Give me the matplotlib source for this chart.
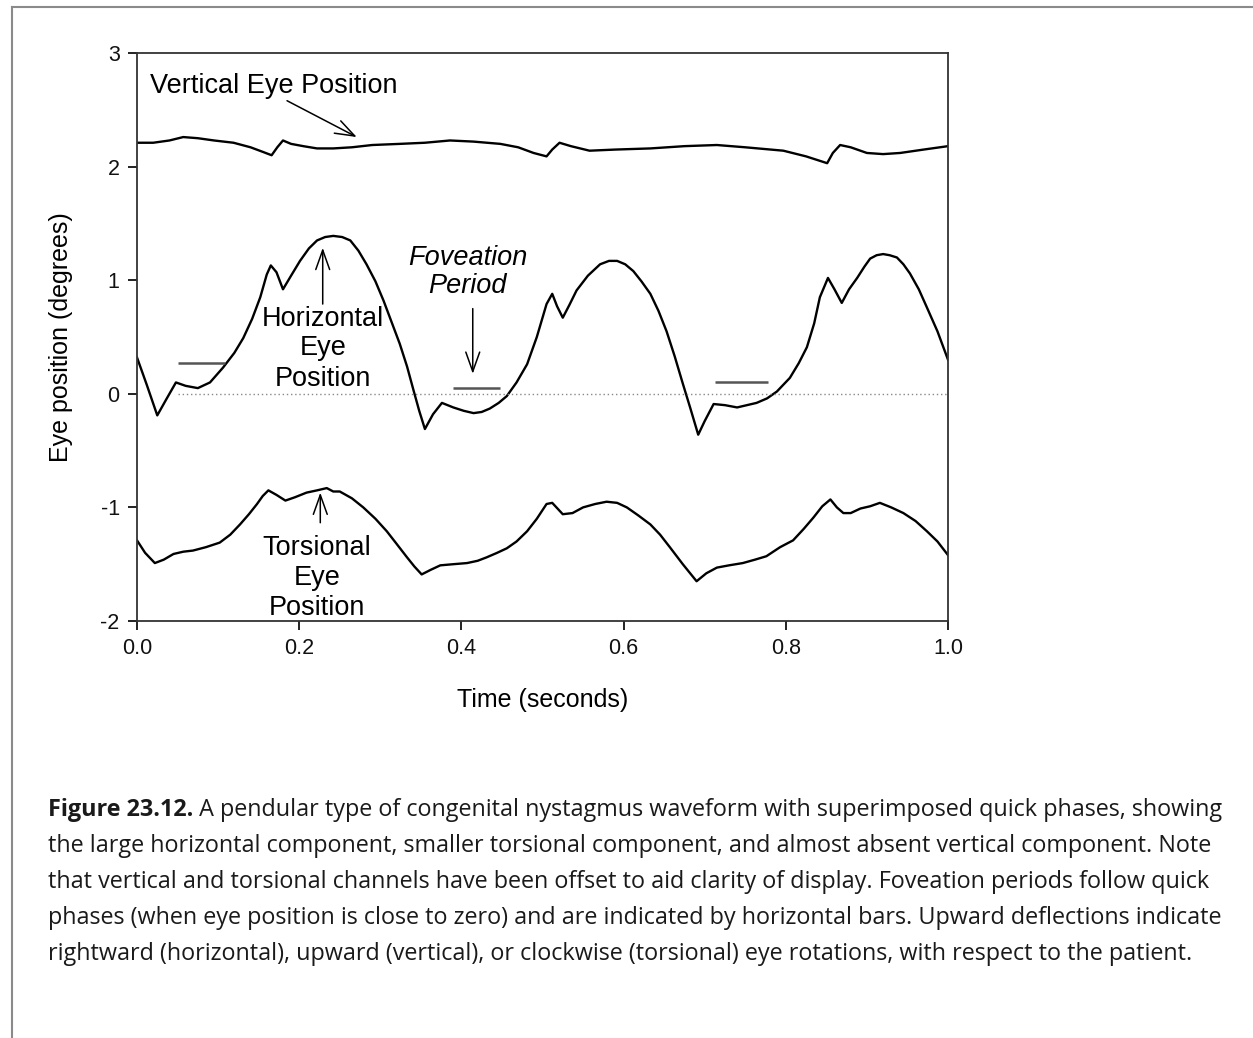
import matplotlib
matplotlib.use("Agg")
import matplotlib.pyplot as plt
from matplotlib.lines import Line2D

plt.rcParams["font.family"] = ["Liberation Sans", "DejaVu Sans"]
plt.rcParams["axes.unicode_minus"] = False

# horizontal eye position (degrees) vs time (s)
horiz_t = [0.000, 0.012, 0.025, 0.036, 0.048, 0.060, 0.075, 0.090, 0.106, 0.120,
           0.131, 0.142, 0.152, 0.160, 0.165, 0.172, 0.180, 0.190, 0.201, 0.212,
           0.222, 0.232, 0.242, 0.253, 0.263, 0.273, 0.283, 0.294, 0.304, 0.314,
           0.324, 0.333, 0.341, 0.348, 0.355, 0.365, 0.376, 0.390, 0.403, 0.415,
           0.425, 0.435, 0.446, 0.456, 0.468, 0.481, 0.493, 0.505, 0.512, 0.518,
           0.525, 0.533, 0.542, 0.556, 0.571, 0.582, 0.592, 0.602, 0.612, 0.622,
           0.633, 0.643, 0.653, 0.663, 0.673, 0.682, 0.692, 0.700, 0.711, 0.725,
           0.740, 0.752, 0.764, 0.777, 0.789, 0.805, 0.816, 0.826, 0.835, 0.842,
           0.852, 0.860, 0.869, 0.878, 0.888, 0.897, 0.904, 0.912, 0.920, 0.928,
           0.937, 0.945, 0.953, 0.964, 0.974, 0.987, 1.000]
horiz_v = [0.32, 0.08, -0.19, -0.05, 0.10, 0.07, 0.05, 0.10, 0.23, 0.36,
           0.49, 0.66, 0.85, 1.05, 1.13, 1.07, 0.92, 1.04, 1.17, 1.28,
           1.35, 1.38, 1.39, 1.38, 1.35, 1.26, 1.14, 0.99, 0.82, 0.63,
           0.44, 0.24, 0.03, -0.15, -0.31, -0.18, -0.08, -0.12, -0.15, -0.17,
           -0.16, -0.13, -0.08, -0.02, 0.10, 0.26, 0.50, 0.79, 0.88, 0.77,
           0.67, 0.78, 0.91, 1.04, 1.14, 1.17, 1.17, 1.14, 1.08, 0.99,
           0.88, 0.73, 0.55, 0.33, 0.09, -0.12, -0.36, -0.24, -0.09, -0.10,
           -0.12, -0.10, -0.08, -0.04, 0.02, 0.14, 0.27, 0.41, 0.62, 0.85,
           1.02, 0.92, 0.80, 0.92, 1.02, 1.12, 1.19, 1.22, 1.23, 1.22,
           1.20, 1.14, 1.06, 0.92, 0.76, 0.55, 0.30]

# torsional eye position (offset for display)
tors_t = [0.000, 0.010, 0.022, 0.033, 0.045, 0.057, 0.069, 0.085, 0.102, 0.115,
          0.127, 0.138, 0.148, 0.155, 0.162, 0.172, 0.183, 0.195, 0.209, 0.222,
          0.234, 0.242, 0.250, 0.265, 0.279, 0.294, 0.308, 0.320, 0.333, 0.342,
          0.351, 0.362, 0.374, 0.390, 0.407, 0.420, 0.431, 0.444, 0.456, 0.468,
          0.481, 0.493, 0.505, 0.512, 0.525, 0.537, 0.550, 0.565, 0.579, 0.592,
          0.604, 0.618, 0.633, 0.645, 0.657, 0.673, 0.690, 0.702, 0.715, 0.730,
          0.747, 0.762, 0.776, 0.793, 0.809, 0.822, 0.834, 0.845, 0.855, 0.863,
          0.871, 0.880, 0.892, 0.904, 0.916, 0.930, 0.945, 0.960, 0.974, 0.987,
          1.000]
tors_v = [-1.29, -1.40, -1.49, -1.46, -1.41, -1.39, -1.38, -1.35, -1.31, -1.24,
          -1.15, -1.06, -0.97, -0.90, -0.85, -0.89, -0.94, -0.91, -0.87, -0.85,
          -0.83, -0.86, -0.86, -0.92, -1.00, -1.10, -1.21, -1.32, -1.44, -1.52,
          -1.59, -1.55, -1.51, -1.50, -1.49, -1.47, -1.44, -1.40, -1.36, -1.30,
          -1.21, -1.10, -0.97, -0.96, -1.06, -1.05, -1.00, -0.97, -0.95, -0.96,
          -1.00, -1.07, -1.15, -1.24, -1.35, -1.50, -1.65, -1.58, -1.53, -1.51,
          -1.49, -1.46, -1.43, -1.35, -1.29, -1.19, -1.09, -0.99, -0.93, -1.00,
          -1.05, -1.05, -1.01, -0.99, -0.96, -1.00, -1.05, -1.12, -1.21, -1.30,
          -1.42]

# vertical eye position (offset for display)
vert_t = [0.000, 0.020, 0.040, 0.057, 0.075, 0.095, 0.119, 0.140, 0.155, 0.166,
          0.173, 0.180, 0.190, 0.205, 0.222, 0.242, 0.265, 0.290, 0.324, 0.355,
          0.386, 0.415, 0.448, 0.470, 0.489, 0.505, 0.512, 0.521, 0.535, 0.558,
          0.590, 0.633, 0.675, 0.715, 0.750, 0.797, 0.825, 0.851, 0.858, 0.867,
          0.880, 0.900, 0.920, 0.941, 0.970, 1.000]
vert_v = [2.21, 2.21, 2.23, 2.26, 2.25, 2.23, 2.21, 2.17, 2.13, 2.10,
          2.17, 2.23, 2.20, 2.18, 2.16, 2.16, 2.17, 2.19, 2.20, 2.21,
          2.23, 2.22, 2.20, 2.17, 2.12, 2.09, 2.15, 2.21, 2.18, 2.14,
          2.15, 2.16, 2.18, 2.19, 2.17, 2.14, 2.09, 2.03, 2.12, 2.19,
          2.17, 2.12, 2.11, 2.12, 2.15, 2.18]

# foveation period bars
fov_start = [0.051, 0.390, 0.713]
fov_end = [0.109, 0.448, 0.778]
fov_level = [0.27, 0.05, 0.10]

x_ticks = [0.0, 0.2, 0.4, 0.6, 0.8, 1.0]
y_ticks = [-2, -1, 0, 1, 2, 3]

caption_bold = "Figure 23.12."
caption_lines = [
    " A pendular type of congenital nystagmus waveform with superimposed quick phases, showing",
    "the large horizontal component, smaller torsional component, and almost absent vertical component. Note",
    "that vertical and torsional channels have been offset to aid clarity of display. Foveation periods follow quick",
    "phases (when eye position is close to zero) and are indicated by horizontal bars. Upward deflections indicate",
    "rightward (horizontal), upward (vertical), or clockwise (torsional) eye rotations, with respect to the patient.",
]

W, H = 1253, 1038
fig = plt.figure(figsize=(W / 100, H / 100), dpi=100)
ax = fig.add_axes([137 / W, 1 - 621 / H, (948 - 137) / W, (621 - 53) / H])

ax.plot(horiz_t, horiz_v, color="black", lw=1.7)
ax.plot(tors_t, tors_v, color="black", lw=1.7)
ax.plot(vert_t, vert_v, color="black", lw=1.7)
ax.plot([0.05, 1.0], [0, 0], color="#888888", lw=1.0, ls=(0, (1, 2)))
ax.hlines(fov_level, fov_start, fov_end, color="#555555", lw=1.8)

ax.set_xlim(0, 1)
ax.set_ylim(-2, 3)
ax.set_xticks(x_ticks)
ax.set_xticklabels([f"{t:.1f}" for t in x_ticks])
ax.set_yticks(y_ticks)
ax.set_yticklabels([str(v) for v in y_ticks])
ax.tick_params(direction="out", length=6.5, width=1.3, labelsize=15.5, pad=6,
               colors="#111111")
for s in ax.spines.values():
    s.set_linewidth(1.3)
    s.set_color("#333333")

ax.set_xlabel("Time (seconds)", fontsize=18)
ax.xaxis.set_label_coords(0.5, -0.118)
ax.set_ylabel("Eye position (degrees)", fontsize=18)
ax.yaxis.set_label_coords(-0.079, 0.5)

fs = 19.5
ax.text(0.016, 2.71, "Vertical Eye Position", fontsize=fs, ha="left", va="center")
for txt, y in zip(["Horizontal", "Eye", "Position"], [0.66, 0.40, 0.13]):
    ax.text(0.229, y, txt, fontsize=fs, ha="center", va="center")
for txt, y in zip(["Torsional", "Eye", "Position"], [-1.356, -1.62, -1.884]):
    ax.text(0.222, y, txt, fontsize=fs, ha="center", va="center")
for txt, y in zip(["Foveation", "Period"], [1.197, 0.951]):
    ax.text(0.408, y, txt, fontsize=fs, ha="center", va="center", style="italic")

arrow = dict(arrowstyle="->,head_length=0.7,head_width=0.25", color="black",
             lw=1.1, shrinkA=0, shrinkB=0, mutation_scale=20)
ax.annotate("", xy=(0.271, 2.26), xytext=(0.185, 2.58), arrowprops=arrow)
ax.annotate("", xy=(0.229, 1.285), xytext=(0.229, 0.79), arrowprops=arrow)
ax.annotate("", xy=(0.414, 0.176), xytext=(0.414, 0.75), arrowprops=arrow)
ax.annotate("", xy=(0.226, -0.87), xytext=(0.226, -1.135), arrowprops=arrow)

# page frame (top and left edges)
fig.add_artist(Line2D([12 / W, 1], [1 - 7 / H, 1 - 7 / H], color="#8a8a8a", lw=1.5))
fig.add_artist(Line2D([12 / W, 12 / W], [0, 1 - 7 / H], color="#8a8a8a", lw=1.5))

# caption
cap_font = ["Open Sans", "DejaVu Sans"]
cap_fs = 16.8
cap_color = "#1a1a1a"
bold = fig.text(48 / W, 1 - 810 / H, caption_bold, fontsize=cap_fs, fontweight="bold",
                family=cap_font, color=cap_color, ha="left", va="center")
ax.annotate(caption_lines[0], xy=(1, 0.5), xycoords=bold, fontsize=cap_fs,
            family=cap_font, color=cap_color, ha="left", va="center",
            annotation_clip=False)
for i, line in enumerate(caption_lines[1:]):
    fig.text(48 / W, 1 - (846 + 36 * i) / H, line, fontsize=cap_fs, family=cap_font,
             color=cap_color, ha="left", va="center")

fig.savefig("out.png", dpi=100)
